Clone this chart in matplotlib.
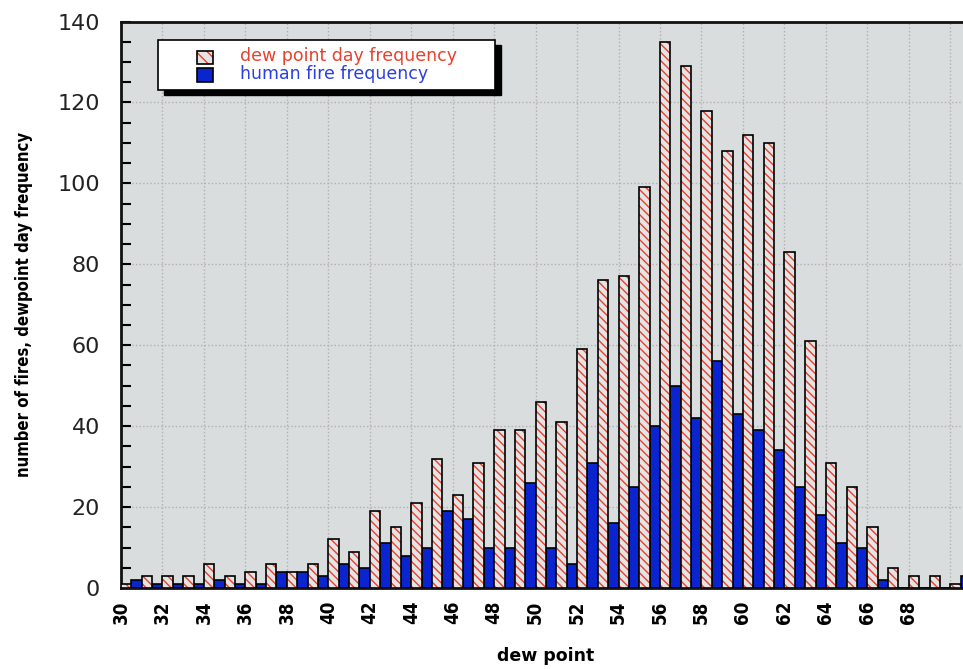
import matplotlib
matplotlib.use("Agg")
import matplotlib.pyplot as plt
from matplotlib import font_manager
from matplotlib.font_manager import FontProperties
from matplotlib.patches import Rectangle
import numpy as np

# ---- data ----
dew_points = list(range(30, 72))
dewpoint_day_freq = [1, 3, 3, 3, 6, 3, 4, 6, 4, 6, 12, 9, 19, 15, 21, 32, 23, 31, 39, 39,
                     46, 41, 59, 76, 77, 99, 135, 129, 118, 108, 112, 110, 83, 61, 31, 25,
                     15, 5, 3, 3, 1, 0]
human_fire_freq = [0, 2, 1, 1, 1, 2, 1, 1, 4, 4, 3, 6, 5, 11, 8, 10, 19, 17, 10, 10,
                   26, 10, 6, 31, 16, 25, 40, 50, 42, 56, 43, 39, 34, 25, 18, 11,
                   10, 2, 0, 0, 0, 3]
x_ticks = list(range(30, 72, 2))
x_tick_labels = [str(t) if t <= 68 else "" for t in x_ticks]
y_ticks = [0, 20, 40, 60, 80, 100, 120, 140]
legend_labels = ["dew point day frequency", "human fire frequency"]

RED = "#e8402e"
BLUE = "#0a24cf"
BG = "#d9dddd"


def find_condensed_bold():
    cands = []
    for f in font_manager.fontManager.ttflist:
        nm = f.name.lower()
        fn = f.fname.lower()
        narrow = ("narrow" in nm or "condensed" in nm or "condensed" in fn
                  or "narrow" in fn or str(f.stretch) in ("condensed", "semi-condensed"))
        if not narrow:
            continue
        w = f.weight if isinstance(f.weight, int) else (700 if "bold" in str(f.weight) else 400)
        if "oblique" in fn or "italic" in fn or f.style != "normal":
            continue
        score = abs(w - 700)
        if "liberation" in nm:
            score -= 50
        cands.append((score, f.fname))
    if cands:
        cands.sort()
        return FontProperties(fname=cands[0][1])
    return None


COND = find_condensed_bold()


def cond_props(size):
    if COND is not None:
        fp = COND.copy()
        fp.set_size(size)
        return fp
    return FontProperties(family="DejaVu Sans", weight="bold", size=size * 0.9)


plt.rcParams["hatch.linewidth"] = 1.0
plt.rcParams["hatch.color"] = RED

W, H = 963, 669
fig = plt.figure(figsize=(W / 100, H / 100), dpi=100)
fig.patch.set_facecolor("white")

ax_left, ax_right, ax_top, ax_bottom = 121, 971, 21.5, 588
ax = fig.add_axes([ax_left / W, (H - ax_bottom) / H, (ax_right - ax_left) / W,
                   (ax_bottom - ax_top) / H])
ax.set_facecolor(BG)

x = np.array(dew_points, dtype=float)
bw = 0.5
ax.bar(x - 0.25, human_fire_freq, width=bw, color=BLUE, edgecolor="black",
       linewidth=1.2, zorder=3)
ax.bar(x + 0.25, dewpoint_day_freq, width=bw, color="#e4e4e4", edgecolor=RED,
       hatch="\\\\\\\\", linewidth=0, zorder=3)
ax.bar(x + 0.25, dewpoint_day_freq, width=bw, fill=False, edgecolor="black",
       linewidth=1.2, zorder=4)

ax.set_xlim(30, 71)
ax.set_ylim(0, 140)
ax.set_xticks(x_ticks)
ax.set_xticklabels(x_tick_labels, rotation=90, fontproperties=cond_props(13.5),
                   va="top", ha="center")
ax.set_yticks(y_ticks)
ax.set_yticklabels([str(v) for v in y_ticks], fontfamily="DejaVu Sans",
                   fontsize=16, color="#222222")
ax.set_yticks(np.arange(0, 141, 5), minor=True)
ax.tick_params(axis="y", which="both", direction="in", length=7, width=1.5,
               pad=15, right=False)
ax.tick_params(axis="x", which="both", length=0, pad=9)

ax.set_axisbelow(True)
ax.grid(True, which="major", color="#b0b0b0", linestyle=(0, (1, 1.6)),
        linewidth=1.0)

for side in ["left", "top", "bottom", "right"]:
    ax.spines[side].set_linewidth(2)
    ax.spines[side].set_color("#111111")

fig.text(546 / W, 1 - 656 / H, "dew point", fontfamily="DejaVu Sans",
         fontweight="bold", fontsize=12.5, ha="center", va="center")
fig.text(24 / W, 1 - 304 / H, "number of fires, dewpoint day frequency",
         fontproperties=cond_props(12), rotation=90,
         ha="center", va="center")


# ---- legend (drawn in figure pixel space) ----
def fx(px):
    return px / W


def fy(py):
    return 1 - py / H


lx0, lx1, ly0, ly1 = 158, 495, 40, 90
fig.patches.append(Rectangle((fx(lx0 + 6), fy(ly1 + 5)), fx(lx1 - lx0), (ly1 - ly0) / H,
                             transform=fig.transFigure, facecolor="black",
                             edgecolor="black", zorder=10))
fig.patches.append(Rectangle((fx(lx0), fy(ly1)), fx(lx1 - lx0), (ly1 - ly0) / H,
                             transform=fig.transFigure, facecolor="white",
                             edgecolor="black", linewidth=1.2, zorder=11))
fig.patches.append(Rectangle((fx(197), fy(63.5)), fx(16), 12 / H,
                             transform=fig.transFigure, facecolor="#e4e4e4",
                             edgecolor=RED, hatch="\\\\\\", linewidth=0, zorder=12))
fig.patches.append(Rectangle((fx(197), fy(63.5)), fx(16), 12 / H,
                             transform=fig.transFigure, fill=False,
                             edgecolor="black", linewidth=1.2, zorder=13))
fig.patches.append(Rectangle((fx(197), fy(81.5)), fx(16), 13 / H,
                             transform=fig.transFigure, facecolor=BLUE,
                             edgecolor="black", linewidth=1.2, zorder=12))
fig.text(fx(240), fy(56), legend_labels[0], color=RED, fontsize=12.5,
         fontfamily="DejaVu Sans", ha="left", va="center", zorder=14)
fig.text(fx(240), fy(74), legend_labels[1], color="#2b3fe0", fontsize=12.5,
         fontfamily="DejaVu Sans", ha="left", va="center", zorder=14)

fig.savefig("out.png", dpi=100)
